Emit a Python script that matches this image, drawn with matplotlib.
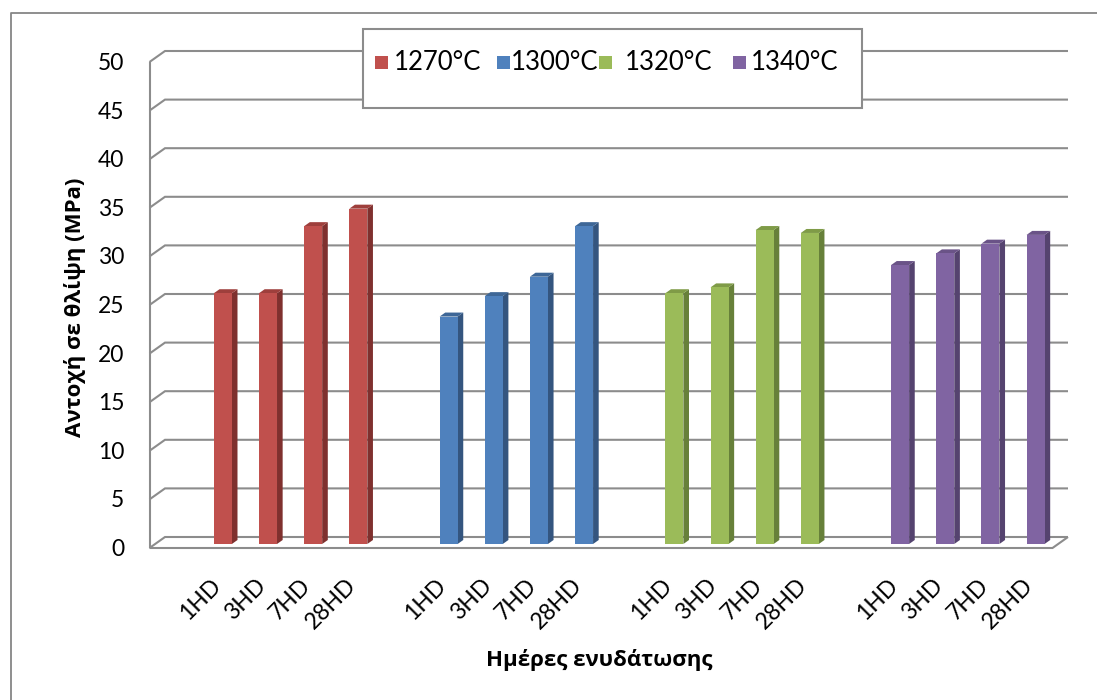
import matplotlib
matplotlib.use("Agg")
import matplotlib.pyplot as plt
from matplotlib.patches import Polygon, Rectangle
from matplotlib.lines import Line2D

# ---- data -------------------------------------------------------------
temperatures = ["1270°C", "1300°C", "1320°C", "1340°C"]
days = ["1HD", "3HD", "7HD", "28HD"]
strength_1270 = [25.8, 25.8, 32.7, 34.5]
strength_1300 = [23.4, 25.5, 27.5, 32.7]
strength_1320 = [25.8, 26.4, 32.3, 32.0]
strength_1340 = [28.7, 29.9, 30.9, 31.8]
y_ticks = [0, 5, 10, 15, 20, 25, 30, 35, 40, 45, 50]

series = [strength_1270, strength_1300, strength_1320, strength_1340]

# ---- style ------------------------------------------------------------
face_colors = ["#C0504D", "#4F81BD", "#9BBB59", "#8064A2"]
side_colors = ["#7F302E", "#34557F", "#67803A", "#55436F"]
top_colors = ["#9E3F3C", "#3E6797", "#7F9B47", "#6A5387"]
grid_color = "#8C8C8C"

plt.rcParams["font.family"] = ["Lato", "DejaVu Sans"]
greek_font = ["Open Sans", "DejaVu Sans"]

W, H, DPI = 1097, 700, 100
fig = plt.figure(figsize=(W / DPI, H / DPI), dpi=DPI)
fig.patch.set_facecolor("white")

# back wall of the plot area (pixels)
AX_L, AX_R, AX_T, AX_B = 165, 1068, 51, 537
ax = fig.add_axes([AX_L / W, 1 - AX_B / H, (AX_R - AX_L) / W, (AX_B - AX_T) / H])
n_slots = 20
ax.set_xlim(0, n_slots)
ax.set_ylim(0, 50)
ax.axis("off")

# pixel -> data unit factors
px_x = n_slots / (AX_R - AX_L)
px_y = 50 / (AX_B - AX_T)
# shift from back wall to the front edge of the floor
DX = -15.5 * px_x
DY = -11 * px_y

line_kw = dict(color=grid_color, lw=1.5, clip_on=False, zorder=1,
               solid_capstyle="butt", solid_joinstyle="miter")

# gridlines on the back wall with their short links to the side wall
for v in y_ticks:
    ax.plot([DX, 0, n_slots], [v + DY, v, v], **line_kw)
# side wall edge and floor front edge
ax.plot([DX, DX], [DY, 50 + DY], **line_kw)
ax.plot([DX, n_slots + DX, n_slots], [DY, DY, 0], **line_kw)

# ---- bars -------------------------------------------------------------
bar_w = 18 * px_x
d_front = 7 / 11
d_back = 3 / 11


def pt(x, y, d):
    return (x + d * DX, y + d * DY)


for g, values in enumerate(series):
    for k, val in enumerate(values):
        slot = 1 + g * 5 + k
        xc = slot + 0.5
        x0, x1 = xc - bar_w / 2, xc + bar_w / 2
        side = [pt(x1, 0, d_front), pt(x1, val, d_front),
                pt(x1, val, d_back), pt(x1, 0, d_back)]
        top = [pt(x0, val, d_front), pt(x1, val, d_front),
               pt(x1, val, d_back), pt(x0, val, d_back)]
        front = [pt(x0, 0, d_front), pt(x1, 0, d_front),
                 pt(x1, val, d_front), pt(x0, val, d_front)]
        ax.add_patch(Polygon(side, closed=True, fc=side_colors[g], ec="none",
                             clip_on=False, zorder=3))
        ax.add_patch(Polygon(top, closed=True, fc=top_colors[g], ec="none",
                             clip_on=False, zorder=3))
        ax.add_patch(Polygon(front, closed=True, fc=face_colors[g], ec="none",
                             clip_on=False, zorder=4))
        # category label under the bar
        fx, fy = pt(xc, 0, 1.0)
        ax.text(fx, fy - 34 * px_y, days[k], rotation=45, rotation_mode="anchor",
                ha="right", va="center", fontsize=16.5, color="black")

# value axis labels
for v in y_ticks:
    ax.text(DX - 25 * px_x, v + DY - 1.5 * px_y, str(v), ha="right", va="center",
            fontsize=16.5, color="black")

# ---- axis titles --------------------------------------------------------
fig.text(75 / W, 1 - 307 / H, "Αντοχή σε θλίψη (MPa)", rotation=90,
         ha="center", va="center", fontsize=16, fontweight="bold",
         family=greek_font)
fig.text(599 / W, 1 - 660 / H, "Ημέρες ενυδάτωσης", ha="center", va="center",
         fontsize=16, fontweight="bold", family=greek_font)

# ---- legend -------------------------------------------------------------
LEG_L, LEG_T, LEG_R, LEG_B = 363, 29, 862, 108
fig.add_artist(Rectangle((LEG_L / W, 1 - LEG_B / H), (LEG_R - LEG_L) / W,
                         (LEG_B - LEG_T) / H, transform=fig.transFigure,
                         fc="white", ec=grid_color, lw=1.5, zorder=5))
marker_x = [375, 497, 599, 733]
text_x = [394, 511, 625, 751]
leg_y = 62
sq = 13
for i, lab in enumerate(temperatures):
    fig.add_artist(Rectangle((marker_x[i] / W, 1 - (leg_y + sq / 2) / H), sq / W, sq / H,
                             transform=fig.transFigure, fc=face_colors[i], ec="none",
                             zorder=6))
    fig.text(text_x[i] / W, 1 - leg_y / H, lab, ha="left", va="center",
             fontsize=18.5, color="black", zorder=6)

# ---- chart area border (top and left edges) ------------------------------
fig.add_artist(Line2D([11 / W, 11 / W, 1], [0, 1 - 13 / H, 1 - 13 / H],
                      transform=fig.transFigure, color="#868686", lw=1.3))

fig.savefig("out.png", dpi=DPI, facecolor="white")
